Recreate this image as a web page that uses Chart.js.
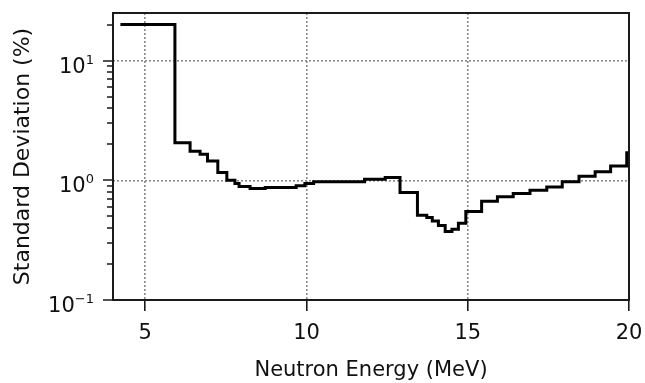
<!DOCTYPE html>
<html>
<head>
<meta charset="utf-8">
<script src="https://cdn.jsdelivr.net/npm/chart.js@4.4.1/dist/chart.umd.min.js"></script>
<style>
  body { margin: 0; background: #fff; }
  #wrap { width: 645px; height: 383px; }
</style>
</head>
<body>
<div id="wrap"><canvas id="sdChart" width="645" height="383"></canvas></div>
<script>
// lower bin edges (MeV) and standard deviation (%) of each bin, last entry closes the histogram at 20 MeV
const binEdges = [4.23, 5.92, 6.39, 6.70, 6.93, 7.25, 7.53, 7.78, 7.91, 8.25, 8.72, 9.68, 9.95, 10.22, 11.8, 12.44,
                  12.9, 13.44, 13.73, 13.9, 14.09, 14.30, 14.51, 14.71, 14.94, 15.43, 15.92, 16.41, 16.93, 17.45,
                  17.93, 18.45, 18.95, 19.43, 19.93, 20];
const stdDev = [20, 2.06, 1.75, 1.65, 1.45, 1.16, 1.00, 0.94, 0.886, 0.853, 0.87, 0.90, 0.94, 0.975, 1.02, 1.055,
                0.79, 0.51, 0.49, 0.458, 0.42, 0.373, 0.39, 0.438, 0.548, 0.67, 0.73, 0.775, 0.826, 0.88,
                0.975, 1.08, 1.18, 1.32, 1.70, 1.70];

const xTicks = [5, 10, 15, 20];
const yMajor = [0.1, 1, 10];
const yExponents = ['\u22121', '0', '1'];
const yMinor = [0.2, 0.3, 0.4, 0.5, 0.6, 0.7, 0.8, 0.9, 2, 3, 4, 5, 6, 7, 8, 9, 20];

const FONT = '"DejaVu Sans", Verdana, sans-serif';
const GRID = '#8a8a8a';

const points = binEdges.map((e, i) => ({ x: e, y: stdDev[i] }));

// frame, y tick marks and the 10^n labels
const axisDecor = {
    id: 'axisDecor',
    afterDraw(chart) {
        const ctx = chart.ctx;
        const area = chart.chartArea;
        const y = chart.scales.y;
        ctx.save();
        ctx.strokeStyle = '#1a1a1a';
        ctx.lineWidth = 2;
        ctx.strokeRect(area.left, area.top, area.right - area.left, area.bottom - area.top);

        ctx.lineWidth = 1.6;
        ctx.beginPath();
        yMajor.forEach(v => {
            const py = Math.round(y.getPixelForValue(v));
            ctx.moveTo(area.left - 10, py);
            ctx.lineTo(area.left, py);
        });
        yMinor.forEach(v => {
            const py = Math.round(y.getPixelForValue(v));
            ctx.moveTo(area.left - 6, py);
            ctx.lineTo(area.left, py);
        });
        ctx.stroke();

        ctx.fillStyle = '#111';
        ctx.textBaseline = 'alphabetic';
        ctx.textAlign = 'left';
        yMajor.forEach((v, i) => {
            const py = y.getPixelForValue(v);
            ctx.font = '21px ' + FONT;
            const wBase = ctx.measureText('10').width;
            ctx.font = '13px ' + FONT;
            const wSup = ctx.measureText(yExponents[i]).width;
            const x0 = area.left - 19 - wBase - wSup;
            ctx.font = '21px ' + FONT;
            ctx.fillText('10', x0, py + 12);
            ctx.font = '13px ' + FONT;
            ctx.fillText(yExponents[i], x0 + wBase, py + 3);
        });
        ctx.restore();
    }
};

new Chart(document.getElementById('sdChart').getContext('2d'), {
    type: 'line',
    data: {
        datasets: [{
            data: points,
            stepped: 'before',
            borderColor: '#000',
            borderWidth: 3,
            pointRadius: 0,
            fill: false
        }]
    },
    options: {
        responsive: false,
        animation: false,
        layout: { padding: { top: 13, right: 16, left: 0, bottom: 0 } },
        plugins: { legend: { display: false }, tooltip: { enabled: false } },
        scales: {
            x: {
                type: 'linear',
                min: 4,
                max: 20,
                afterBuildTicks: s => { s.ticks = xTicks.map(v => ({ value: v })); },
                afterFit: s => { s.height = 83; s.paddingLeft = 0; s.paddingRight = 0; },
                grid: {
                    color: c => (c.tick && c.tick.value < 20 ? GRID : 'rgba(0,0,0,0)'),
                    lineWidth: 1.6,
                    tickColor: '#1a1a1a',
                    tickLength: 11,
                    tickWidth: 1.6,
                    tickBorderDash: []
                },
                border: { display: false, dash: [2, 2] },
                ticks: {
                    color: '#111',
                    font: { family: FONT, size: 21 },
                    padding: 10,
                    maxRotation: 0
                },
                title: {
                    display: true,
                    text: 'Neutron Energy (MeV)',
                    color: '#111',
                    font: { family: FONT, size: 21 },
                    padding: { top: 0, bottom: 0 }
                }
            },
            y: {
                type: 'logarithmic',
                min: 0.1,
                max: 25,
                afterBuildTicks: s => { s.ticks = yMajor.concat(yMinor).map(v => ({ value: v })); },
                afterFit: s => { s.width = 113; s.paddingTop = 0; s.paddingBottom = 0; },
                grid: {
                    color: c => (c.tick && (c.tick.value === 1 || c.tick.value === 10) ? GRID : 'rgba(0,0,0,0)'),
                    lineWidth: 1.6,
                    drawTicks: false
                },
                border: { display: false, dash: [2, 2] },
                ticks: { display: false },
                title: {
                    display: true,
                    text: 'Standard Deviation (%)',
                    color: '#111',
                    font: { family: FONT, size: 22 },
                    padding: { top: 10, bottom: 0 }
                }
            }
        }
    },
    plugins: [axisDecor]
});
</script>
</body>
</html>
